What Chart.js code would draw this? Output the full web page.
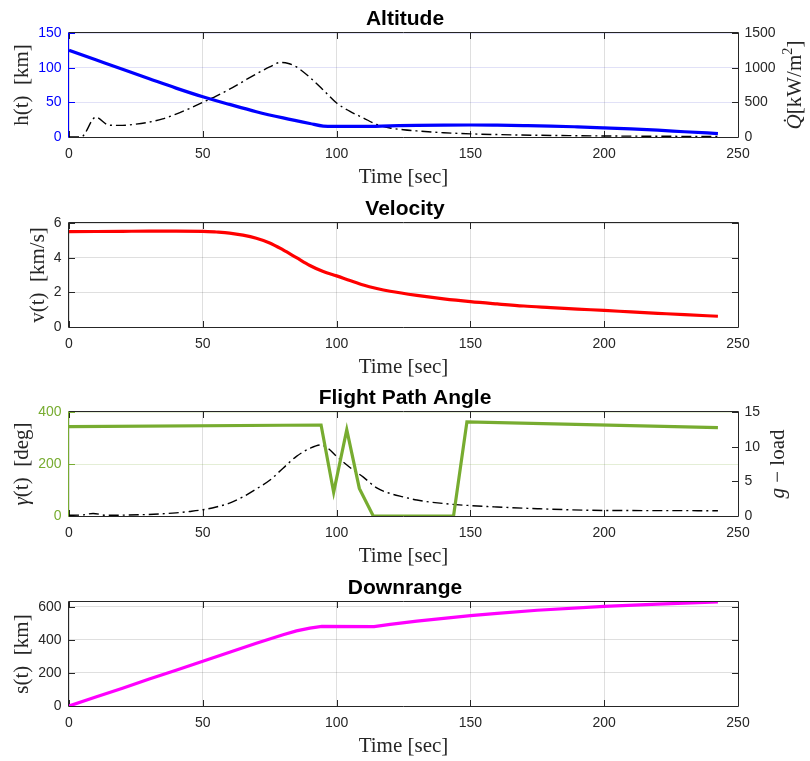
<!DOCTYPE html>
<html>
<head>
<meta charset="utf-8">
<script src="https://cdn.jsdelivr.net/npm/chart.js@4.4.1/dist/chart.umd.min.js"></script>
<style>
  html, body { margin: 0; padding: 0; background: #fff; }
  #wrap { position: relative; width: 810px; height: 761px; }
  #wrap canvas { position: absolute; left: 0; }
</style>
</head>
<body>
<div id="wrap">
  <canvas id="altitude" width="810" height="190" style="top:0px"></canvas>
  <canvas id="velocity" width="810" height="190" style="top:190px"></canvas>
  <canvas id="fpa" width="810" height="190" style="top:379px"></canvas>
  <canvas id="downrange" width="810" height="190" style="top:569px"></canvas>
</div>
<script>
// ---- Trajectory data (time in seconds) ----
const timeTicks = [0, 50, 100, 150, 200, 250];

const timeAlt    = [0, 10, 20, 30, 40, 50, 60, 70, 80, 90, 95, 100, 110, 120, 130, 140, 150, 160, 170, 180, 190, 200, 210, 220, 230, 242.5];
const altitudeKm = [125, 111.3, 97.6, 84, 70.5, 58, 47, 36.5, 27.5, 19.5, 15.8, 15.4, 15.2, 16, 16.8, 17.2, 17.3, 17, 16.5, 15.8, 14.6, 13.2, 11.7, 9.8, 7.6, 5];

const timeHeat = [0, 4.5, 10, 15, 20, 25, 30, 35, 40, 45, 50, 55, 60, 65, 70, 75, 79, 82, 85, 90, 95, 100, 105, 110, 115, 120, 125, 130, 140, 150, 160, 175, 200, 225, 242.5];
const heatFlux = [0, 0, 286, 170, 168, 185, 215, 262, 330, 410, 500, 590, 690, 800, 910, 1010, 1075, 1060, 1010, 860, 680, 490, 370, 275, 180, 130, 105, 88, 62, 45, 35, 25, 15, 10, 8];

const timeVel     = [0, 10, 20, 30, 40, 50, 55, 60, 65, 70, 75, 80, 85, 90, 95, 100, 105, 110, 115, 120, 130, 140, 150, 160, 170, 180, 190, 200, 210, 220, 230, 242.5];
const velocityKms = [5.5, 5.51, 5.52, 5.53, 5.53, 5.52, 5.48, 5.42, 5.3, 5.12, 4.85, 4.45, 4.0, 3.55, 3.2, 2.95, 2.68, 2.42, 2.22, 2.06, 1.82, 1.62, 1.46, 1.33, 1.21, 1.12, 1.03, 0.96, 0.87, 0.79, 0.71, 0.62];

const timeGamma = [0, 94.2, 98.9, 103.8, 108.5, 113.7, 143.7, 148.7, 242.5];
const gammaDeg  = [344, 350, 91, 332, 106, 0, 0, 362, 340];

const timeGLoad = [0, 5, 9, 14, 20, 28, 35, 40, 45, 50, 55, 60, 65, 70, 75, 80, 85, 90, 94, 97, 100, 105, 110, 115, 120, 125, 130, 140, 150, 160, 175, 200, 220, 242.5];
const gLoad     = [0.1, 0.15, 0.37, 0.1, 0.12, 0.2, 0.32, 0.45, 0.65, 0.9, 1.3, 1.85, 2.75, 3.9, 5.15, 6.9, 8.6, 9.75, 10.25, 9.7, 8.6, 7.0, 5.6, 4.05, 3.25, 2.75, 2.3, 1.8, 1.5, 1.3, 1.05, 0.8, 0.78, 0.76];

const timeRange   = [0, 10, 20, 30, 40, 50, 60, 70, 80, 85, 90, 94.5, 114, 120, 130, 140, 150, 160, 175, 200, 220, 242.5];
const downrangeKm = [0, 54, 108, 163, 217, 271, 326, 380, 432, 455, 472, 482, 481, 494, 514, 531, 547, 561, 580, 604, 617, 630];

// Axis tick values
const altTicks   = [0, 50, 100, 150];
const heatTicks  = [0, 500, 1000, 1500];
const velTicks   = [0, 2, 4, 6];
const gammaTicks = [0, 200, 400];
const gTicks     = [0, 5, 10, 15];
const rangeTicks = [0, 200, 400, 600];

// ---- Styling ----
const AXIS  = '#262626';
const GRID  = 'rgba(38,38,38,0.15)';
const SANS  = '"Liberation Sans", Arial, Helvetica, sans-serif';
const SERIF = '"Liberation Serif", "Times New Roman", serif';
const BLUE = '#0000ff', RED = '#ff0000', GREEN = '#77ac30', MAGENTA = '#ff00ff';

const LEFT_W = 69, RIGHT_W = 72, XAXIS_H = 53;
const TICK_FONT = { family: SANS, size: 14 };
const LABEL_SIZE = 21;
const plainNumber = v => String(v);

function points(times, values) {
  return times.map((t, i) => ({ x: t, y: values[i] }));
}

function fixedTicks(values) {
  return function (scale) {
    scale.ticks = values.map(v => ({ value: v }));
  };
}

// Box around the plot area with inward tick marks
const framePlugin = {
  id: 'frame',
  beforeDatasetsDraw(chart, args, opts) {
    const { ctx, chartArea: a, scales } = chart;
    const L = Math.round(a.left), R = Math.round(a.right);
    const T = Math.round(a.top), B = Math.round(a.bottom);
    const len = 6;
    const seg = (x1, y1, x2, y2, c) => {
      ctx.strokeStyle = c;
      ctx.beginPath(); ctx.moveTo(x1, y1); ctx.lineTo(x2, y2); ctx.stroke();
    };
    ctx.save();
    ctx.lineWidth = 1;
    scales.x.ticks.forEach(t => {
      const px = Math.round(scales.x.getPixelForValue(t.value)) + 0.5;
      seg(px, B, px, B - len, AXIS);
      seg(px, T, px, T + len, AXIS);
    });
    const yl = scales.y;
    yl.ticks.forEach(t => {
      const py = Math.round(yl.getPixelForValue(t.value)) + 0.5;
      seg(L, py, L + len, py, opts.leftColor);
      if (opts.mirror) seg(R, py, R - len, py, AXIS);
    });
    if (!opts.mirror) {
      const yr = scales.y2;
      yr.ticks.forEach(t => {
        const py = Math.round(yr.getPixelForValue(t.value)) + 0.5;
        seg(R, py, R - len, py, AXIS);
      });
    }
    seg(L - 0.5, T - 0.5, R + 0.5, T - 0.5, AXIS);
    seg(L - 0.5, B + 0.5, R + 0.5, B + 0.5, AXIS);
    seg(R + 0.5, T - 0.5, R + 0.5, B + 0.5, AXIS);
    seg(L - 0.5, T - 0.5, L - 0.5, B + 0.5, opts.leftColor);
    ctx.restore();
  }
};

// Rotated y-axis labels built from mixed upright / italic / superscript runs
function drawRotatedLabel(ctx, runs, baseX, centerY) {
  const fontFor = r => (r.it ? 'italic ' : '') + (r.sup ? LABEL_SIZE * 0.68 : LABEL_SIZE) + 'px ' + SERIF;
  let total = 0;
  runs.forEach(r => { ctx.font = fontFor(r); total += ctx.measureText(r.t).width; });
  ctx.save();
  ctx.translate(baseX, centerY);
  ctx.rotate(-Math.PI / 2);
  ctx.fillStyle = AXIS;
  ctx.textBaseline = 'alphabetic';
  ctx.textAlign = 'left';
  let x = -total / 2;
  runs.forEach(r => {
    ctx.font = fontFor(r);
    ctx.fillText(r.t, x, r.sup ? -LABEL_SIZE * 0.42 : 0);
    x += ctx.measureText(r.t).width;
  });
  ctx.restore();
}

const axisLabelPlugin = {
  id: 'axisLabels',
  afterDraw(chart, args, opts) {
    const { ctx, chartArea: a } = chart;
    const cy = (a.top + a.bottom) / 2;
    if (opts.left) drawRotatedLabel(ctx, opts.left.runs, opts.left.x, cy);
    if (opts.right) drawRotatedLabel(ctx, opts.right.runs, opts.right.x, cy);
  }
};

function xScale() {
  return {
    type: 'linear', min: 0, max: 250,
    afterBuildTicks: fixedTicks(timeTicks),
    ticks: { font: TICK_FONT, color: AXIS, padding: 8.5, maxRotation: 0, callback: plainNumber },
    grid: { color: GRID, drawTicks: false },
    border: { display: false },
    title: { display: true, text: 'Time [sec]', color: AXIS, font: { family: SERIF, size: LABEL_SIZE }, padding: { top: 0, bottom: 0 } },
    afterFit(s) { s.height = XAXIS_H; }
  };
}

function leftScale(min, max, tickVals, tickColor, gridColor) {
  return {
    type: 'linear', position: 'left', min, max,
    afterBuildTicks: fixedTicks(tickVals),
    ticks: { font: TICK_FONT, color: tickColor, padding: 7.5, callback: plainNumber },
    grid: { color: gridColor, drawTicks: false },
    border: { display: false },
    afterFit(s) { s.width = LEFT_W; }
  };
}

function rightScale(min, max, tickVals, show) {
  return {
    type: 'linear', position: 'right', min, max,
    afterBuildTicks: fixedTicks(tickVals),
    ticks: { display: show, font: TICK_FONT, color: AXIS, padding: 6.5, callback: plainNumber },
    grid: { display: false, drawTicks: false },
    border: { display: false },
    afterFit(s) { s.width = RIGHT_W; }
  };
}

function makeChart(id, title, datasets, scales, frameOpts, labelOpts) {
  return new Chart(document.getElementById(id), {
    type: 'line',
    data: { datasets },
    options: {
      responsive: false,
      animation: false,
      events: [],
      layout: { padding: 0 },
      scales: Object.assign({ x: xScale() }, scales),
      plugins: {
        legend: { display: false },
        tooltip: { enabled: false },
        title: {
          display: true, text: title, color: '#000',
          font: { family: SANS, size: 21, weight: 'bold', lineHeight: 1 },
          padding: { top: 8.5, bottom: 3.5 }
        },
        frame: frameOpts,
        axisLabels: labelOpts
      }
    },
    plugins: [framePlugin, axisLabelPlugin]
  });
}

const solid = (times, vals, color, axis, smooth) => ({
  data: points(times, vals), yAxisID: axis,
  borderColor: color, borderWidth: 3.2, pointRadius: 0, fill: false,
  cubicInterpolationMode: smooth ? 'monotone' : 'default', tension: 0
});
const dashDot = (times, vals, axis) => ({
  data: points(times, vals), yAxisID: axis,
  borderColor: '#000', borderWidth: 1.4, borderDash: [10, 4, 2, 4], pointRadius: 0, fill: false,
  cubicInterpolationMode: 'monotone'
});

// Altitude with heat flux on the right axis
makeChart('altitude', 'Altitude',
  [solid(timeAlt, altitudeKm, BLUE, 'y', true), dashDot(timeHeat, heatFlux, 'y2')],
  { y: leftScale(0, 150, altTicks, BLUE, 'rgba(40,40,200,0.14)'), y2: rightScale(0, 1500, heatTicks, true) },
  { leftColor: BLUE, mirror: false },
  {
    left: { x: 28, runs: [{ t: 'h(t)  [km]' }] },
    right: { x: 801, runs: [{ t: 'Q\u0307', it: true }, { t: '[kW/m' }, { t: '2', sup: true }, { t: ']' }] }
  });

// Velocity
makeChart('velocity', 'Velocity',
  [solid(timeVel, velocityKms, RED, 'y', true)],
  { y: leftScale(0, 6, velTicks, AXIS, GRID), y2: rightScale(0, 6, velTicks, false) },
  { leftColor: AXIS, mirror: true },
  { left: { x: 43.5, runs: [{ t: 'v(t)  [km/s]' }] } });

// Flight path angle with g-load on the right axis
makeChart('fpa', 'Flight Path Angle',
  [solid(timeGamma, gammaDeg, GREEN, 'y', false), dashDot(timeGLoad, gLoad, 'y2')],
  { y: leftScale(0, 400, gammaTicks, GREEN, 'rgba(119,172,48,0.2)'), y2: rightScale(0, 15, gTicks, true) },
  { leftColor: GREEN, mirror: false },
  {
    left: { x: 28, runs: [{ t: '\u03B3', it: true }, { t: '(t)  [deg]' }] },
    right: { x: 784, runs: [{ t: 'g', it: true }, { t: ' \u2212 load' }] }
  });

// Downrange distance
makeChart('downrange', 'Downrange',
  [solid(timeRange, downrangeKm, MAGENTA, 'y', false)],
  { y: leftScale(0, 630, rangeTicks, AXIS, GRID), y2: rightScale(0, 630, rangeTicks, false) },
  { leftColor: AXIS, mirror: true },
  { left: { x: 28, runs: [{ t: 's(t)  [km]' }] } });
</script>
</body>
</html>
